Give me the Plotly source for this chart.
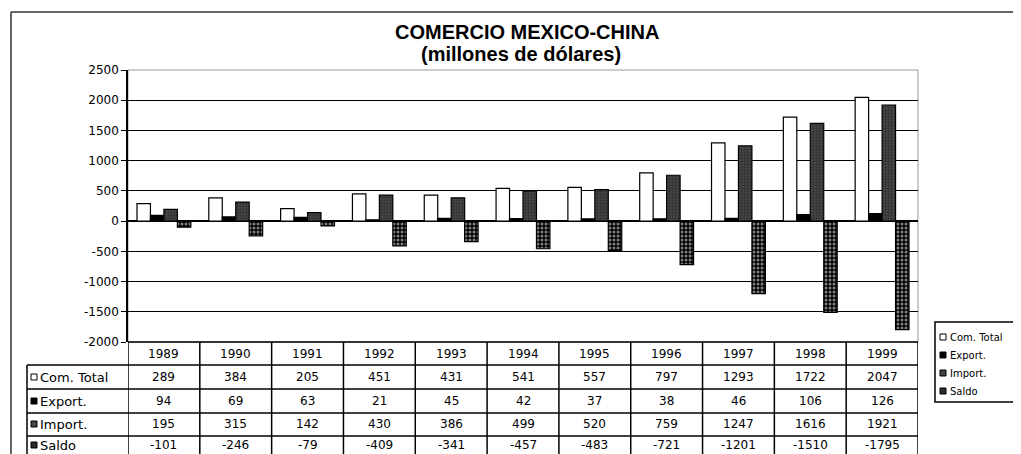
import plotly.graph_objects as go

# ---------------- data ----------------
years = ["1989", "1990", "1991", "1992", "1993", "1994", "1995", "1996", "1997", "1998", "1999"]
series_names = ["Com. Total", "Export.", "Import.", "Saldo"]
com_total = [289, 384, 205, 451, 431, 541, 557, 797, 1293, 1722, 2047]
export_ = [94, 69, 63, 21, 45, 42, 37, 38, 46, 106, 126]
import_ = [195, 315, 142, 430, 386, 499, 520, 759, 1247, 1616, 1921]
saldo = [-101, -246, -79, -409, -341, -457, -483, -721, -1201, -1510, -1795]
y_ticks = [2500, 2000, 1500, 1000, 500, 0, -500, -1000, -1500, -2000]
title_line1 = "COMERCIO MEXICO-CHINA"
title_line2 = "(millones de dólares)"

# ---------------- layout geometry ----------------
# Coordinates below are in screenshot pixels; the page body adds an 8px offset.
OFF = 8
W, H = 1021 - OFF, 454 - OFF
PL, PR, PT, PB = 128, 918, 70, 342   # plot area edges (screenshot px)


def px_x(p):
    return (p - PL) / (PR - PL)


def px_y(p):
    return (PB - p) / (PB - PT)


FONT = "DejaVu Sans"
TFONT = "Liberation Sans"

fig = go.Figure()

styles = [
    dict(color="white", pattern=None),
    dict(color="black", pattern=None),
    dict(color="#3a3a3a", pattern=dict(shape=".", fgcolor="#151515", bgcolor="#444444", size=3, solidity=0.4)),
    dict(color="black", pattern=dict(shape=".", fgcolor="white", bgcolor="black", size=4, solidity=0.45)),
]
values = [com_total, export_, import_, saldo]

for name, vals, st in zip(series_names, values, styles):
    marker = dict(color=st["color"], line=dict(color="black", width=1.2))
    if st["pattern"]:
        marker["pattern"] = st["pattern"]
    fig.add_trace(go.Bar(x=years, y=vals, name=name, marker=marker, showlegend=False))

shapes = []
annotations = []

# plot-area border (light)
shapes.append(dict(type="rect", xref="paper", yref="paper", x0=0, x1=1, y0=0, y1=1,
                   line=dict(color="#9a9a9a", width=1), layer="below"))

# outer frame (top and left)
shapes.append(dict(type="line", xref="paper", yref="paper",
                   x0=px_x(11), x1=px_x(1013), y0=px_y(12), y1=px_y(12),
                   line=dict(color="#333", width=1.5)))
shapes.append(dict(type="line", xref="paper", yref="paper",
                   x0=px_x(11), x1=px_x(11), y0=px_y(12), y1=px_y(460),
                   line=dict(color="#333", width=1.5)))

# title
annotations.append(dict(text="<b>%s</b>" % title_line1, xref="paper", yref="paper",
                        x=px_x(527), y=px_y(32), xanchor="center", yanchor="middle",
                        showarrow=False, font=dict(family=TFONT, size=20, color="black")))
annotations.append(dict(text="<b>%s</b>" % title_line2, xref="paper", yref="paper",
                        x=px_x(521), y=px_y(54), xanchor="center", yanchor="middle",
                        showarrow=False, font=dict(family=TFONT, size=20, color="black")))

# ---------------- data table ----------------
row_lines = [342, 365, 389, 413, 436]
row_centers = [377, 401, 424, 445]
TL = 27       # table left edge (label column)
TB = 460      # table bottom (cut by the image)

shapes.append(dict(type="line", xref="paper", yref="paper", x0=0, x1=1,
                   y0=px_y(342), y1=px_y(342), line=dict(color="black", width=1.5)))
for yl in row_lines[1:]:
    shapes.append(dict(type="line", xref="paper", yref="paper", x0=px_x(TL), x1=1,
                       y0=px_y(yl), y1=px_y(yl), line=dict(color="black", width=1.5)))
for i in range(len(years) + 1):
    shapes.append(dict(type="line", xref="x", yref="paper", x0=i - 0.5, x1=i - 0.5,
                       y0=px_y(342), y1=px_y(TB), line=dict(color="black", width=1.5)))
shapes.append(dict(type="line", xref="paper", yref="paper", x0=px_x(TL), x1=px_x(TL),
                   y0=px_y(365), y1=px_y(TB), line=dict(color="black", width=1.5)))

# year header (category axis: annotation x is the category index)
for i, yr in enumerate(years):
    annotations.append(dict(text=yr, xref="x", yref="paper", x=i, y=px_y(354),
                            xanchor="center", yanchor="middle",
                            showarrow=False, font=dict(family=FONT, size=12, color="black")))

icon_fill = ["white", "black", "#444444", "#2a2a2a"]
for r, (name, vals) in enumerate(zip(series_names, values)):
    yc = row_centers[r]
    shapes.append(dict(type="rect", xref="paper", yref="paper",
                       x0=px_x(31), x1=px_x(37), y0=px_y(yc - 3), y1=px_y(yc + 3),
                       fillcolor=icon_fill[r], line=dict(color="black", width=1)))
    annotations.append(dict(text=name, xref="paper", yref="paper", x=px_x(38), y=px_y(yc),
                            xanchor="left", yanchor="middle", showarrow=False,
                            font=dict(family=FONT, size=13, color="black")))
    for i, v in enumerate(vals):
        annotations.append(dict(text=str(v), xref="x", yref="paper", x=i, y=px_y(yc),
                                xanchor="center", yanchor="middle",
                                showarrow=False, font=dict(family=FONT, size=12, color="black")))

# ---------------- legend (right) ----------------
shapes.append(dict(type="rect", xref="paper", yref="paper",
                   x0=px_x(935), x1=px_x(1030), y0=px_y(322), y1=px_y(402),
                   fillcolor="white", line=dict(color="black", width=1.5)))
leg_y = [337, 355, 373, 391]
for r, name in enumerate(series_names):
    yc = leg_y[r]
    shapes.append(dict(type="rect", xref="paper", yref="paper",
                       x0=px_x(940), x1=px_x(946), y0=px_y(yc - 3), y1=px_y(yc + 3),
                       fillcolor=icon_fill[r], line=dict(color="black", width=1)))
    annotations.append(dict(text=name, xref="paper", yref="paper", x=px_x(948), y=px_y(yc),
                            xanchor="left", yanchor="middle", showarrow=False,
                            font=dict(family=FONT, size=10, color="black")))

fig.update_layout(
    width=W, height=H, autosize=False,
    margin=dict(l=PL - OFF, r=1021 - PR, t=PT - OFF, b=454 - PB, pad=0),
    paper_bgcolor="white", plot_bgcolor="white",
    barmode="group", bargap=0.25, bargroupgap=0,
    showlegend=False,
    shapes=shapes, annotations=annotations,
    xaxis=dict(type="category", range=[-0.5, len(years) - 0.5], showticklabels=False,
               showgrid=False, zeroline=False, showline=False, ticks=""),
    yaxis=dict(range=[-2000, 2500], tickmode="array", tickvals=y_ticks,
               ticktext=[str(t) for t in y_ticks],
               showgrid=True, gridcolor="black", gridwidth=1,
               zeroline=True, zerolinecolor="black", zerolinewidth=1.5,
               showline=True, linecolor="black", linewidth=1.5,
               ticks="outside", ticklen=5, tickcolor="black",
               tickfont=dict(family=FONT, size=12, color="black")),
)

fig.write_html("out.html")
